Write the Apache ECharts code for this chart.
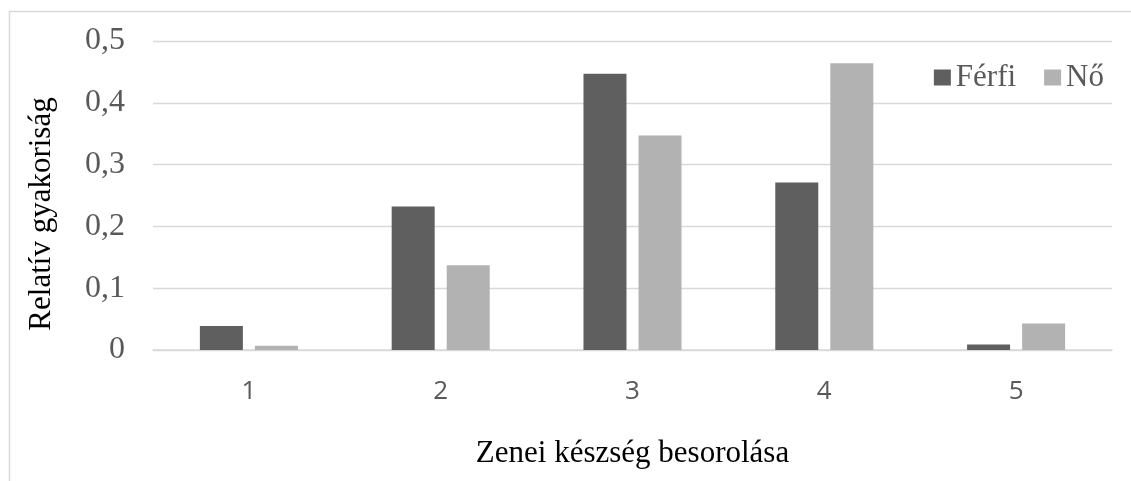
<!DOCTYPE html>
<html>
<head>
<meta charset="utf-8">
<script src="https://cdn.jsdelivr.net/npm/echarts@6/dist/echarts.min.js"></script>
<style>
html,body{margin:0;padding:0;background:#fff;}
#chart{width:1131px;height:481px;}
</style>
</head>
<body>
<div id="chart"></div>
<script>
const categories = ['1', '2', '3', '4', '5'];
const ferfi = [0.039, 0.232, 0.447, 0.271, 0.009];
const no = [0.007, 0.137, 0.347, 0.464, 0.043];
const seriesNames = ['Férfi', 'Nő'];
const yAxisTitle = 'Relatív gyakoriság';
const xAxisTitle = 'Zenei készség besorolása';

const serif = '"Liberation Serif", "Times New Roman", serif';
const sans = '"Open Sans", "Liberation Sans", sans-serif';
const chart = echarts.init(document.getElementById('chart'), null, {renderer: 'canvas'});
chart.setOption({
  animation: false,
  backgroundColor: '#ffffff',
  graphic: [
    {type: 'rect', left: 7, top: 9, shape: {width: 1300, height: 700}, style: {fill: 'none', stroke: '#d9d9d9', lineWidth: 1.5}, silent: true},
    {type: 'text', x: 42, y: 214, rotation: Math.PI / 2, style: {text: yAxisTitle, font: '31px ' + serif, fill: '#000', textAlign: 'center', textVerticalAlign: 'middle'}}
  ],
  legend: {
    data: seriesNames,
    right: 22,
    top: 57,
    itemWidth: 17,
    itemHeight: 16,
    itemGap: 28,
    icon: 'rect',
    textStyle: {fontFamily: serif, fontSize: 31, color: '#595959'}
  },
  grid: {left: 153, right: 19, top: 41, bottom: 131, containLabel: false},
  xAxis: {
    type: 'category',
    data: categories,
    axisLine: {show: true, lineStyle: {color: '#d9d9d9', width: 1.5}},
    axisTick: {show: false},
    axisLabel: {fontFamily: sans, fontSize: 26, color: '#595959', margin: 29},
    name: xAxisTitle,
    nameLocation: 'middle',
    nameGap: 88,
    nameTextStyle: {fontFamily: serif, fontSize: 31, color: '#000'}
  },
  yAxis: {
    type: 'value',
    min: 0,
    max: 0.5,
    interval: 0.1,
    axisLine: {show: false},
    axisTick: {show: false},
    splitLine: {lineStyle: {color: '#d9d9d9', width: 1.3}},
    axisLabel: {
      fontFamily: serif, fontSize: 32, color: '#595959', margin: 28,
      formatter: v => (Math.round(v * 10) / 10).toString().replace('.', ',')
    }
  },
  series: [
    {name: seriesNames[0], type: 'bar', data: ferfi, barWidth: 43, barGap: '28%', itemStyle: {color: '#5f5f5f'}},
    {name: seriesNames[1], type: 'bar', data: no, barWidth: 43, barGap: '28%', itemStyle: {color: '#b2b2b2'}}
  ]
});
</script>
</body>
</html>
